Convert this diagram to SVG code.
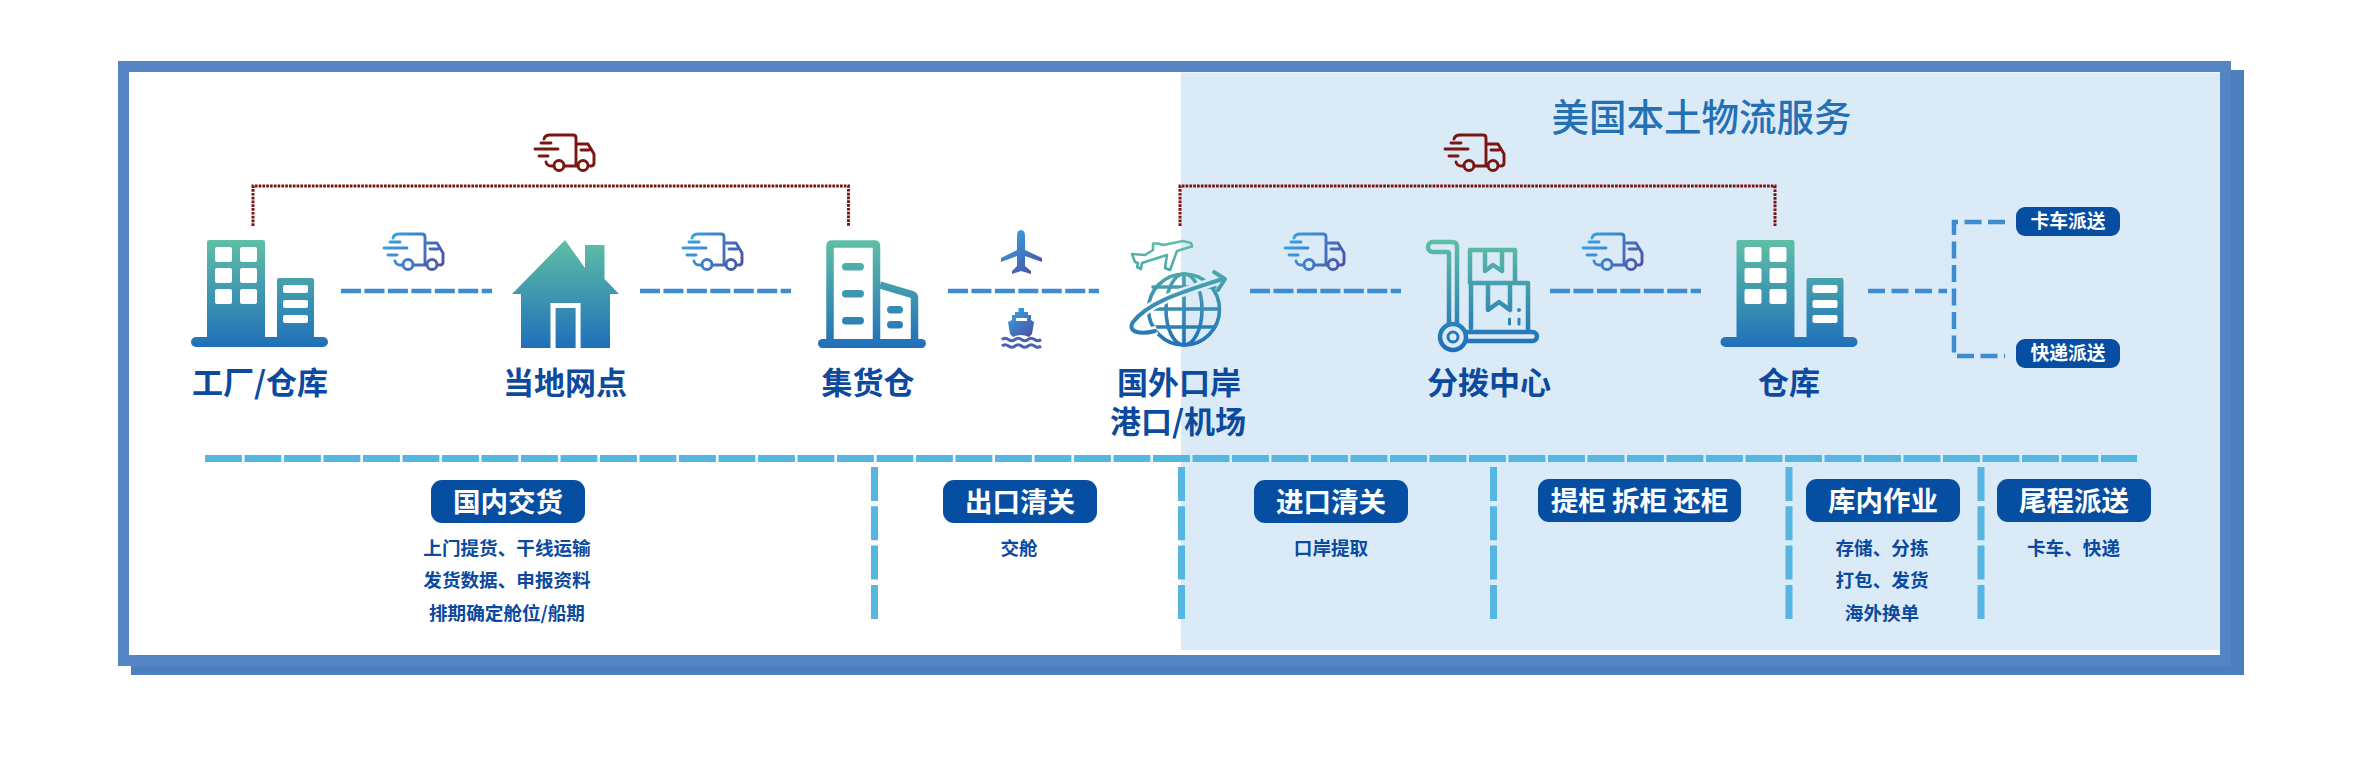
<svg xmlns="http://www.w3.org/2000/svg" xmlns:xlink="http://www.w3.org/1999/xlink" width="2362" height="781" viewBox="0 0 2362 781">
<style>
text{font-family:"Noto Sans CJK SC","Noto Sans",sans-serif;text-anchor:middle}
.node{font-size:31px;font-weight:700;fill:#0B4A9E}
.title{font-size:37.5px;font-weight:500;fill:#2470B5}
.pill{fill:#054EA2}
.pt{font-size:27.5px;font-weight:700;fill:#fff}
.ps{font-size:18.8px;font-weight:700;fill:#fff}
.sub{font-size:18.6px;font-weight:700;fill:#0B4A9E}
.dot{fill:none;stroke:#7B1512;stroke-width:3;stroke-dasharray:2.7 1.1}
.flow{fill:none;stroke:#3E8BCF;stroke-width:4.5;stroke-dasharray:20 3.45}
.tree{fill:none;stroke:#3E8BCF;stroke-width:4.5;stroke-dasharray:17 6.5}
.bar{fill:none;stroke:#56B6E2;stroke-width:7;stroke-dasharray:36.9 2.6}
.vbar{fill:none;stroke:#56B6E2;stroke-width:7;stroke-dasharray:34 5.3}
.ol{fill:none;stroke:url(#g);stroke-width:4.5;stroke-linejoin:round;stroke-linecap:round}
.truck{fill:none;stroke-width:2.9;stroke-linecap:round;stroke-linejoin:round}
</style>
<defs>
<linearGradient id="g" gradientUnits="userSpaceOnUse" x1="0" y1="240" x2="0" y2="348"><stop offset="0" stop-color="#5FBFA5"/><stop offset="1" stop-color="#1F6FBA"/></linearGradient>
<linearGradient id="tg" gradientUnits="userSpaceOnUse" x1="4" y1="5" x2="64" y2="40"><stop offset="0" stop-color="#36ACE6"/><stop offset="1" stop-color="#4B4FA5"/></linearGradient>
<linearGradient id="pg" x1="0.1" y1="0" x2="0.9" y2="1"><stop offset="0" stop-color="#36A8E2"/><stop offset="1" stop-color="#4B4FA5"/></linearGradient>
<g id="truck" class="truck">
<path d="M13,10Q14,6 19,6H42Q45,6 45,9V37M33,37H47M15,33Q16,37 20,37H23M45,15H57L63,25V34Q63,37 60,37H59M50,21H58M10,14H20M4,20H27M8,27H17"/>
<circle cx="28" cy="36.5" r="5"/><circle cx="52" cy="36.5" r="5"/>
</g>
<g id="office">
<path fill="url(#g)" d="M209,240H263Q265,240 265,242V337H277V280Q277,278 279,278H312Q314,278 314,280V337H323A5,5 0 0 1 323,347H196A5,5 0 0 1 196,337H207V242Q207,240 209,240Z"/>
<g fill="#fff">
<rect x="215" y="247" width="17" height="15" rx="2"/><rect x="240" y="247" width="17" height="15" rx="2"/>
<rect x="215" y="268" width="17" height="15" rx="2"/><rect x="240" y="268" width="17" height="15" rx="2"/>
<rect x="215" y="289" width="17" height="15" rx="2"/><rect x="240" y="289" width="17" height="15" rx="2"/>
<rect x="283" y="285" width="25" height="8" rx="2"/><rect x="283" y="300" width="25" height="8" rx="2"/><rect x="283" y="315" width="25" height="8" rx="2"/>
</g>
</g>
<mask id="globeMask" maskUnits="userSpaceOnUse" x="1120" y="260" width="120" height="100">
<rect x="1120" y="260" width="120" height="100" fill="#fff"/>
<path d="M1222,279C1190,290 1150,300 1133,322C1127,332 1140,335 1157,330" fill="none" stroke="#000" stroke-width="9"/>
</mask>
</defs>
<rect x="131" y="70" width="2113" height="605" fill="#4D7EBF"/>
<rect x="118" y="61" width="2113" height="605" fill="#5585C5"/>
<rect x="129" y="72" width="2091" height="583" fill="#fff"/>
<rect x="1181" y="72.5" width="1039" height="577.5" fill="#DBEAF7"/>
<text class="title" x="1701.5" y="131">美国本土物流服务</text>
<g id="connectors">
<path class="dot" d="M253,226V186H848.5V226"/>
<path class="dot" d="M1180,226V186H1775V226"/>
<path class="flow" d="M341,291H492"/>
<path class="flow" d="M640,291H791"/>
<path class="flow" d="M948,291H1099"/>
<path class="flow" d="M1250,291H1401"/>
<path class="flow" d="M1550,291H1701"/>
<path class="tree" d="M1868,291H1947"/>
<path class="tree" d="M2005,222H1954V356H2005"/>
<path class="bar" d="M205,458.5H2137"/>
<path class="vbar" d="M874.5,467V619"/>
<path class="vbar" d="M1181.5,467V619"/>
<path class="vbar" d="M1493.5,467V619"/>
<path class="vbar" d="M1789,467V619"/>
<path class="vbar" d="M1981,467V619"/>
</g>
<g id="truck-red-1"><use href="#truck" transform="translate(531,129)" stroke="#7B1512"/></g>
<g id="truck-red-2"><use href="#truck" transform="translate(1441,129)" stroke="#7B1512"/></g>
<g id="truck-1"><use href="#truck" transform="translate(380,228)" stroke="url(#tg)"/></g>
<g id="truck-2"><use href="#truck" transform="translate(679,228)" stroke="url(#tg)"/></g>
<g id="truck-3"><use href="#truck" transform="translate(1281,228)" stroke="url(#tg)"/></g>
<g id="truck-4"><use href="#truck" transform="translate(1579,228)" stroke="url(#tg)"/></g>
<g id="plane"><path fill="url(#pg)" d="M1021,230Q1025,230 1025,236V250L1042,258V262L1025,256V266L1031,271V274L1021,271L1012,274V271L1017,266V256L1001,262V258L1017,250V236Q1017,230 1021,230Z"/></g>
<g id="ship">
<path fill="url(#pg)" fill-rule="evenodd" d="M1018.5,308H1024V312H1028V315H1031V320L1034,322L1032,334L1029,337Q1021,333 1013,337L1010,334L1008,322L1012,320V315H1015V312H1018.5ZM1016,318V321H1027V318Z"/>
<path fill="none" stroke="#4A62B0" stroke-width="3" d="M1002,339.5q3.2,-2.5 6.5,0t6.5,0t6.5,0t6.5,0t6.5,0t6.5,0M1002,346q3.2,-2.5 6.5,0t6.5,0t6.5,0t6.5,0t6.5,0t6.5,0"/>
</g>
<g id="factory"><use href="#office"/><text class="node" x="260" y="394">工厂/仓库</text></g>
<g id="local-point">
<path fill="url(#g)" fill-rule="evenodd" d="M565,240L585,268V245H604.5V279L619,294H610V348H580.6V303H550.5V348H521V294H512Z"/>
<rect x="555.6" y="308" width="20" height="40" fill="url(#g)"/>
<text class="node" x="565" y="394">当地网点</text>
</g>
<g id="consolidation">
<path class="ol" style="stroke-width:7.5;stroke-linecap:butt" d="M830,343V246Q830,244 832,244H874.5Q876.5,244 876.5,246V343"/>
<path class="ol" style="stroke-width:7.5;stroke-linecap:butt" d="M880,285L912,294.5Q914.5,295.5 914.5,298V343"/>
<rect x="818" y="339" width="108" height="9" rx="4.5" fill="url(#g)"/>
<g fill="url(#g)">
<rect x="842" y="263" width="22" height="7.5" rx="3.7"/><rect x="842" y="290" width="22" height="7.5" rx="3.7"/><rect x="842" y="317" width="22" height="7.5" rx="3.7"/>
<rect x="887" y="306" width="16" height="7.5" rx="3.7"/><rect x="887" y="321" width="16" height="7.5" rx="3.7"/>
</g>
<text class="node" x="868" y="394">集货仓</text>
</g>
<g id="port">
<path class="ol" style="stroke-width:2.6" d="M1132,254L1145,255L1153,250V243.5H1158L1163,245L1183,241L1191,243L1192,246.5L1190,247L1177,251L1170,270L1165,268L1167,255L1148,261L1142,263L1141,269L1137,267L1138,263L1135,262Z"/>
<g mask="url(#globeMask)">
<circle class="ol" style="stroke-width:3.6" cx="1184" cy="309.5" r="35.5"/>
<ellipse class="ol" style="stroke-width:3.6" cx="1184" cy="309.5" rx="18" ry="35.5"/>
<path class="ol" style="stroke-width:3.6" d="M1184,274V345M1149,309H1219M1153,327H1215M1153,287H1215"/>
</g>
<path class="ol" style="stroke-width:4" d="M1222,279C1190,290 1150,300 1133,322C1127,332 1140,335 1155,331M1214,272L1225,279L1218,290"/>
<text class="node" x="1179" y="394">国外口岸</text>
<text class="node" x="1178" y="433">港口/机场</text>
</g>
<g id="sorting">
<path class="ol" d="M1449,324V254Q1449,252 1447,252H1433A5,5 0 0 1 1433,242H1452Q1457,242 1457,247V324"/>
<path class="ol" d="M1470,283V250H1515V283M1472,283H1528V330M1471,283V328M1485,250V271L1493,265L1502,271V250M1488,283V310L1499,302L1510,310V283"/>
<circle cx="1453" cy="337" r="13" class="ol"/>
<circle cx="1453" cy="337" r="5" class="ol" style="stroke-width:3"/>
<path class="ol" d="M1467,332H1532.5A4.5,4.5 0 0 1 1532.5,341H1467"/>
<circle cx="1519" cy="310" r="2" fill="url(#g)"/>
<path class="ol" style="stroke-width:3" d="M1509.5,319V324M1519,319V324"/>
<text class="node" x="1489" y="394">分拨中心</text>
</g>
<g id="warehouse"><use href="#office" x="1529.5"/><text class="node" x="1789" y="394">仓库</text></g>
<g id="truck-delivery"><rect class="pill" x="2016" y="207" width="104" height="29" rx="9"/><text class="ps" x="2068" y="228">卡车派送</text></g>
<g id="express-delivery"><rect class="pill" x="2016" y="339" width="104" height="29" rx="9"/><text class="ps" x="2068" y="360">快递派送</text></g>
<g id="domestic"><rect class="pill" x="431" y="480" width="154" height="43" rx="11"/><text class="pt" x="508" y="512">国内交货</text>
<text class="sub" x="507" y="555">上门提货、干线运输</text><text class="sub" x="507" y="587">发货数据、申报资料</text><text class="sub" x="507" y="620">排期确定舱位/船期</text></g>
<g id="export"><rect class="pill" x="943" y="480" width="154" height="43" rx="11"/><text class="pt" x="1020" y="512">出口清关</text><text class="sub" x="1019" y="555">交舱</text></g>
<g id="import"><rect class="pill" x="1254" y="480" width="154" height="43" rx="11"/><text class="pt" x="1331" y="512">进口清关</text><text class="sub" x="1331" y="555">口岸提取</text></g>
<g id="container"><rect class="pill" x="1538" y="479" width="203" height="43" rx="11"/><text class="pt" x="1639.5" y="511">提柜 拆柜 还柜</text></g>
<g id="storage"><rect class="pill" x="1806" y="479" width="154" height="43" rx="11"/><text class="pt" x="1883" y="511">库内作业</text>
<text class="sub" x="1882" y="555">存储、分拣</text><text class="sub" x="1882" y="587">打包、发货</text><text class="sub" x="1882" y="620">海外换单</text></g>
<g id="last-mile"><rect class="pill" x="1997" y="479" width="154" height="43" rx="11"/><text class="pt" x="2074" y="511">尾程派送</text><text class="sub" x="2073.5" y="555">卡车、快递</text></g>
</svg>
